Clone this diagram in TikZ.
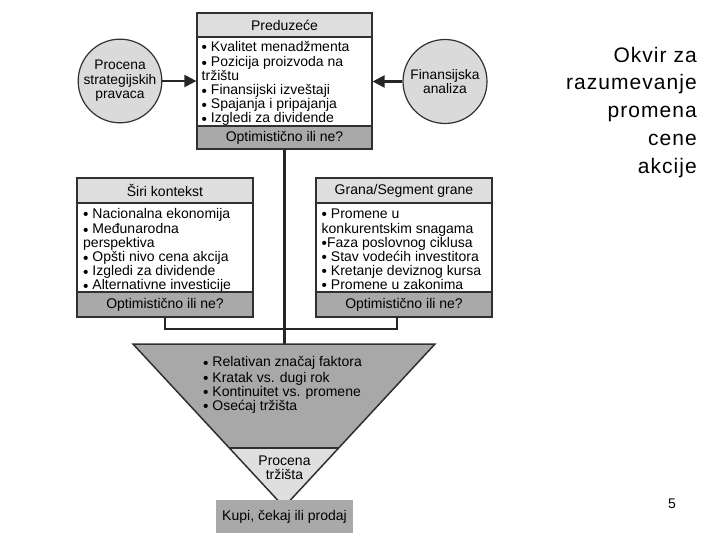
\documentclass[tikz,border=0pt]{standalone}
\usepackage{fontspec}
\setmainfont{Liberation Sans}
\usetikzlibrary{arrows.meta,calc}
\definecolor{hdr}{HTML}{DEDEDE}
\definecolor{ftr}{HTML}{A9A9A9}
\definecolor{circ}{HTML}{DADADA}
\definecolor{fup}{HTML}{A8A8A8}
\definecolor{flo}{HTML}{DFDFDF}
\definecolor{bord}{HTML}{303030}
\newcommand\bl{\raisebox{-0.2ex}{\scalebox{1.1}{•}}}
\begin{document}
\begin{tikzpicture}[x=1pt,y=-1pt,
 txt/.style={font=\fontsize{14}{14}\selectfont, text=black},
 hbox/.style={txt, draw=bord, line width=1.2pt, fill=hdr, inner sep=0pt},
 bbox/.style={draw=bord, line width=1.2pt, fill=white, inner sep=0pt},
 fbox/.style={txt, draw=bord, line width=1.2pt, fill=ftr, inner sep=0pt},
 list/.style={txt, anchor=north west, align=left, inner sep=0pt},
 circnode/.style={circle, draw=bord, line width=1.2pt, fill=circ, align=center, font=\fontsize{13.8}{14.6}\selectfont, inner sep=0pt},
 conn/.style={line width=2.2pt, draw=black!85},
 arr/.style={conn, -{Triangle[length=12pt,width=12pt]}}
]
\useasboundingbox (0,0) rectangle (720,540);

% top box
\node[bbox, minimum width=175pt, minimum height=89pt] (topb) at (284.5,81.5) {};
\node[list] (topl) at (201.5,41) {\strut\bl\ Kvalitet menadžmenta\\ \bl\ Pozicija proizvoda na\\ tržištu\\ \bl\ Finansijski izveštaji\\ \bl\ Spajanja i pripajanja\\ \bl\ Izgledi za dividende};
\node[hbox, minimum width=175pt, minimum height=24pt] (toph) at (284.5,25) {Preduzeće};
\node[fbox, minimum width=175pt, minimum height=23pt] (topf) at (284.5,137.5) {Optimistično ili ne?};

% circles
\node[circnode, minimum size=80pt] (lc) at (120,81) {Procena\\strategijskih\\pravaca};
\node[circnode, minimum size=84pt] (rc) at (445,81.5) {Finansijska\\analiza};
\draw[arr] (lc.east) -- (lc.east -| topb.west);
\draw[arr] (rc.west) -- (rc.west -| topb.east);

% left middle box
\node[bbox, minimum width=176pt, minimum height=89pt] (lb) at (165,247.5) {};
\node[list] (ll) at (83,208) {\strut\bl\ Nacionalna ekonomija\\ \bl\ Međunarodna\\ perspektiva\\ \bl\ Opšti nivo cena akcija\\ \bl\ Izgledi za dividende\\ \bl\ Alternativne investicije};
\node[hbox, minimum width=176pt, minimum height=25pt] (lh) at (165,190.5) {Širi kontekst};
\node[fbox, minimum width=176pt, minimum height=25pt] (lf) at (165,304.5) {Optimistično ili ne?};

% right middle box
\node[bbox, minimum width=176pt, minimum height=89pt] (rb) at (404,247.5) {};
\node[list] (rl) at (321.5,208) {\strut\bl\ Promene u\\ konkurentskim snagama\\ \bl Faza poslovnog ciklusa\\ \bl\ Stav vodećih investitora\\ \bl\ Kretanje deviznog kursa\\ \bl\ Promene u zakonima};
\node[hbox, minimum width=176pt, minimum height=25pt] (rh) at (404,190.5) {Grana/Segment grane};
\node[fbox, minimum width=176pt, minimum height=25pt] (rf) at (404,304.5) {Optimistično ili ne?};

% funnel
\coordinate (fl) at (133,344);
\coordinate (fr) at (435,344);
\coordinate (fa) at (284,507);
\coordinate (fsl) at ($(fl)!0.638!(fa)$);
\coordinate (fsr) at ($(fr)!0.638!(fa)$);
\coordinate (ftop) at (284.5,344);
\coordinate (rj) at (397,317);

% connectors
\draw[conn] (topf.south) -- (ftop);
\draw[conn] (lf.south) -- ++(0,11) -| (rj);

\fill[fup] (fl) -- (fr) -- (fsr) -- (fsl) -- cycle;
\fill[flo] (fsl) -- (fsr) -- (fa) -- cycle;
\draw[bord, line width=1.5pt, line join=miter] (fl) -- (fr) -- (fa) -- cycle;
\draw[bord, line width=1.5pt] (fsl) -- (fsr);

\node[list] (fli) at (203,356.5) {\strut\bl\ Relativan značaj faktora\\ \bl\ Kratak vs. dugi rok\\ \bl\ Kontinuitet vs. promene\\ \bl\ Osećaj tržišta};
\node[txt, align=center, inner sep=0pt] (pt) at (284.5,468) {Procena\\tržišta};

\node[txt, fill=ftr, minimum width=137pt, minimum height=33pt, inner sep=0pt] (kupi) at (284.5,516.5) {Kupi, čekaj ili prodaj};

% title
\node[anchor=north east, align=right, inner sep=0pt, font=\fontsize{21}{27.8}\selectfont\addfontfeature{LetterSpace=5}] (title) at (697,42.5) {\strut Okvir za\\razumevanje\\promena\\cene\\akcije};
\node[font=\fontsize{14}{16}\selectfont, inner sep=0pt] (pg) at (672,504) {5};
\end{tikzpicture}
\end{document}
